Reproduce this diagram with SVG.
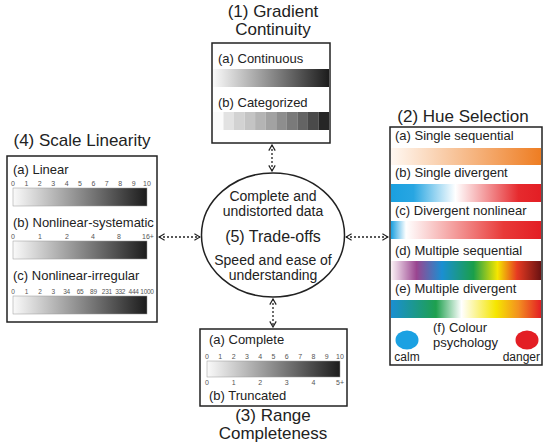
<svg xmlns="http://www.w3.org/2000/svg" width="550" height="446" viewBox="0 0 550 446">
<style>
text{font-family:"Liberation Sans",Arial,sans-serif;fill:#222}
.t{font-size:17px;text-anchor:middle}
.l{font-size:13px}
.n{font-size:7px;fill:#555;text-anchor:middle}
.nc{font-size:6.5px;fill:#555;text-anchor:middle;letter-spacing:-0.3px}
.c{font-size:13px;text-anchor:middle}
.e{font-size:14px;text-anchor:middle}
.box{fill:#fff;stroke:#222;stroke-width:1.5}
.con{stroke:#222;stroke-width:1.3;stroke-dasharray:2 2;fill:none;marker-start:url(#ah);marker-end:url(#ah)}
</style>
<defs>
<marker id="ah" viewBox="0 0 10 10" refX="9" refY="5" markerWidth="8" markerHeight="8" orient="auto-start-reverse" markerUnits="userSpaceOnUse">
<path d="M2,1 L9,5 L2,9" fill="none" stroke="#222" stroke-width="1.5"/>
</marker>
<linearGradient id="gray" x1="0" x2="1" y1="0" y2="0"><stop offset="0" stop-color="#fafafa"/><stop offset="1" stop-color="#1c1c1c"/></linearGradient>
<linearGradient id="gseq" x1="0" x2="1"><stop offset="0" stop-color="#fff8f2"/><stop offset="1" stop-color="#ee7d22"/></linearGradient>
<linearGradient id="gdiv" x1="0" x2="1"><stop offset="0" stop-color="#1aa0e0"/><stop offset="0.15" stop-color="#28a6e2"/><stop offset="0.43" stop-color="#ffffff"/><stop offset="0.85" stop-color="#e62a2e"/><stop offset="1" stop-color="#e31e24"/></linearGradient>
<linearGradient id="gdn" x1="0" x2="1"><stop offset="0" stop-color="#1aa0e0"/><stop offset="0.1" stop-color="#ffffff"/><stop offset="0.75" stop-color="#e83a38"/><stop offset="1" stop-color="#e31e24"/></linearGradient>
<linearGradient id="gms" x1="0" x2="1"><stop offset="0" stop-color="#fbf2f6"/><stop offset="0.17" stop-color="#9a4590"/><stop offset="0.34" stop-color="#1a8fd2"/><stop offset="0.55" stop-color="#1a9f4a"/><stop offset="0.71" stop-color="#f5e600"/><stop offset="0.84" stop-color="#e63a22"/><stop offset="1" stop-color="#6a1212"/></linearGradient>
<linearGradient id="gmd" x1="0" x2="1"><stop offset="0" stop-color="#1a8fd2"/><stop offset="0.3" stop-color="#1ea04e"/><stop offset="0.47" stop-color="#ffffff"/><stop offset="0.7" stop-color="#f5e600"/><stop offset="0.85" stop-color="#f39020"/><stop offset="1" stop-color="#e31e24"/></linearGradient>
</defs>

<g id="node1">
<text class="t" x="273" y="17">(1) Gradient</text>
<text class="t" x="273" y="35">Continuity</text>
<rect class="box" x="212" y="43" width="118" height="100"/>
<text class="l" x="218" y="63">(a) Continuous</text>
<rect x="213" y="69" width="116" height="18" fill="url(#gray)"/>
<text class="l" x="218" y="107">(b) Categorized</text>
<g>
<rect x="213" y="112" width="10.6" height="18" fill="#fbfbfb"/>
<rect x="223.5" y="112" width="10.6" height="18" fill="#e2e2e2"/>
<rect x="234" y="112" width="10.6" height="18" fill="#d2d2d2"/>
<rect x="244.6" y="112" width="10.6" height="18" fill="#c4c4c4"/>
<rect x="255.1" y="112" width="10.6" height="18" fill="#b4b4b4"/>
<rect x="265.6" y="112" width="10.6" height="18" fill="#a2a2a2"/>
<rect x="276.2" y="112" width="10.6" height="18" fill="#8e8e8e"/>
<rect x="286.7" y="112" width="10.6" height="18" fill="#7a7a7a"/>
<rect x="297.3" y="112" width="10.6" height="18" fill="#646464"/>
<rect x="307.8" y="112" width="10.6" height="18" fill="#4a4a4a"/>
<rect x="318.4" y="112" width="10.6" height="18" fill="#262626"/>
</g>
</g>

<g id="node2">
<text class="t" x="463" y="122">(2) Hue Selection</text>
<rect class="box" x="390" y="127" width="152" height="238"/>
<text class="l" x="395" y="140">(a) Single sequential</text>
<rect x="391" y="148" width="150" height="17" fill="url(#gseq)"/>
<text class="l" x="395" y="177">(b) Single divergent</text>
<rect x="391" y="184" width="150" height="18" fill="url(#gdiv)"/>
<text class="l" x="395" y="215">(c) Divergent nonlinear</text>
<rect x="391" y="221" width="150" height="18" fill="url(#gdn)"/>
<text class="l" x="395" y="255">(d) Multiple sequential</text>
<rect x="391" y="261" width="150" height="19" fill="url(#gms)"/>
<text class="l" x="395" y="293">(e) Multiple divergent</text>
<rect x="391" y="300" width="150" height="18" fill="url(#gmd)"/>
<ellipse cx="407" cy="340" rx="11.5" ry="9.5" fill="#1ba1e2"/>
<ellipse cx="527" cy="340" rx="11.5" ry="9.5" fill="#e31e24"/>
<text class="l" x="433" y="332">(f) Colour</text>
<text class="l" x="433" y="347">psychology</text>
<text class="c" x="407" y="361" style="font-size:12px">calm</text>
<text x="540" y="361" style="font-size:12px;text-anchor:end">danger</text>
</g>

<g id="node3">
<rect class="box" x="200" y="329" width="147" height="77"/>
<text class="l" x="209" y="344">(a) Complete</text>
<text class="n" x="207" y="359">0</text><text class="n" x="220.3" y="359">1</text><text class="n" x="233.6" y="359">2</text><text class="n" x="246.9" y="359">3</text><text class="n" x="260.2" y="359">4</text><text class="n" x="273.5" y="359">5</text><text class="n" x="286.8" y="359">6</text><text class="n" x="300.1" y="359">7</text><text class="n" x="313.4" y="359">8</text><text class="n" x="326.7" y="359">9</text><text class="n" x="340" y="359">10</text>
<rect x="207" y="361" width="133" height="16" fill="url(#gray)" stroke="#999" stroke-width="0.5"/>
<text class="n" x="207" y="385">0</text><text class="n" x="233.6" y="385">1</text><text class="n" x="260.2" y="385">2</text><text class="n" x="286.8" y="385">3</text><text class="n" x="313.4" y="385">4</text><text class="n" x="340" y="385">5+</text>
<text class="l" x="209" y="400">(b) Truncated</text>
<text class="t" x="273" y="421">(3) Range</text>
<text class="t" x="273" y="439">Completeness</text>
</g>

<g id="node4">
<text class="t" x="82" y="146">(4) Scale Linearity</text>
<rect class="box" x="7" y="156" width="150" height="166"/>
<text class="l" x="13" y="174">(a) Linear</text>
<text class="n" x="13" y="186">0</text><text class="n" x="26.4" y="186">1</text><text class="n" x="39.8" y="186">2</text><text class="n" x="53.2" y="186">3</text><text class="n" x="66.6" y="186">4</text><text class="n" x="80" y="186">5</text><text class="n" x="93.4" y="186">6</text><text class="n" x="106.8" y="186">7</text><text class="n" x="120.2" y="186">8</text><text class="n" x="133.6" y="186">9</text><text class="n" x="147" y="186">10</text>
<rect x="13" y="188" width="134" height="18" fill="url(#gray)" stroke="#999" stroke-width="0.5"/>
<text class="l" x="13" y="227">(b) Nonlinear-systematic</text>
<text class="n" x="13" y="239">0</text><text class="n" x="40" y="239">1</text><text class="n" x="67" y="239">2</text><text class="n" x="93" y="239">4</text><text class="n" x="119" y="239">8</text><text class="n" x="148" y="239">16+</text>
<rect x="13" y="241" width="134" height="18" fill="url(#gray)" stroke="#999" stroke-width="0.5"/>
<text class="l" x="13" y="280">(c) Nonlinear-irregular</text>
<text class="nc" x="13" y="294">0</text><text class="nc" x="26.4" y="294">1</text><text class="nc" x="39.8" y="294">2</text><text class="nc" x="53.2" y="294">3</text><text class="nc" x="66.6" y="294">34</text><text class="nc" x="80" y="294">65</text><text class="nc" x="93.4" y="294">89</text><text class="nc" x="106.8" y="294">231</text><text class="nc" x="120.2" y="294">332</text><text class="nc" x="133.6" y="294">444</text><text class="nc" x="147" y="294">1000</text>
<rect x="13" y="296" width="134" height="18" fill="url(#gray)" stroke="#999" stroke-width="0.5"/>
</g>

<g id="node5">
<ellipse cx="273" cy="235" rx="71.5" ry="62" fill="#fff" stroke="#222" stroke-width="1.5"/>
<text class="e" x="273" y="201">Complete and</text>
<text class="e" x="273" y="216">undistorted data</text>
<text class="e" x="273" y="242" style="font-size:16px">(5) Trade-offs</text>
<text class="e" x="273" y="265">Speed and ease of</text>
<text class="e" x="273" y="280">understanding</text>
</g>

<g id="connectors">
<line class="con" x1="272" y1="145" x2="272" y2="171"/>
<line class="con" x1="273" y1="299" x2="273" y2="327"/>
<line class="con" x1="159" y1="237" x2="200" y2="237"/>
<line class="con" x1="346" y1="237" x2="388" y2="237"/>
</g>
</svg>
